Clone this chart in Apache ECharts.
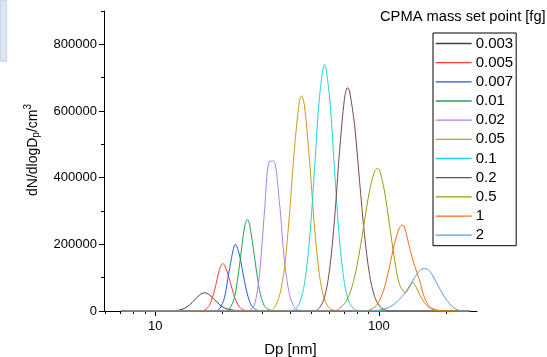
<!DOCTYPE html>
<html>
<head>
<meta charset="utf-8">
<script src="https://cdn.jsdelivr.net/npm/echarts@6/dist/echarts.min.js"></script>
<style>
html,body{margin:0;padding:0;background:#fff;}
#chart{width:547px;height:357px;}
</style>
</head>
<body>
<div id="chart"></div>
<script>
// ---- data (Dp in nm, dN/dlogDp in /cm3) ----
const seriesNames = ['0.003','0.005','0.007','0.01','0.02','0.05','0.1','0.2','0.5','1','2'];
const seriesColors = ['#404040','#ff3a3a','#1f5bd6','#22a352','#b07fe6','#cc9a15','#22d3d3','#7a4848','#9b9b12','#ff6a12','#5b9bdc'];

const dp_0003 = [7.07, 11.59, 12.84, 13.52, 14.23, 14.99, 15.78, 16.62, 17.50, 18.42, 19.40, 20.42, 21.50, 22.63, 23.82, 25.08, 26.41, 254.5];
const n_0003  = [0, 0, 3000, 8000, 18000, 33000, 48000, 55000, 48000, 34000, 19000, 9000, 4500, 2000, 1000, 400, 0, 0];

const dp_0005 = [7.07, 15.78, 16.62, 17.50, 18.42, 19.40, 20.0, 20.42, 21.50, 22.63, 23.82, 25.08, 26.41, 254.5];
const n_0005  = [0, 0, 2700, 17500, 62500, 125000, 142000, 138000, 95000, 42000, 12000, 2500, 0, 0];

const dp_0007 = [7.07, 18.42, 19.40, 20.42, 21.50, 22.86, 23.82, 25.08, 26.41, 27.80, 29.27, 30.82, 254.5];
const n_0007  = [0, 0, 6500, 41000, 127000, 200000, 168000, 89000, 29000, 6000, 1000, 0, 0];

const dp_001 = [7.07, 20.42, 21.50, 22.63, 23.82, 25.08, 25.87, 26.41, 27.80, 29.27, 30.82, 32.45, 34.16, 35.96, 254.5];
const n_001  = [0, 0, 6800, 41000, 137000, 252000, 275000, 261000, 162000, 62000, 14000, 3500, 500, 0, 0];

const dp_002 = [7.07, 25.08, 26.41, 27.80, 29.27, 30.82, 32.28, 33.82, 35.96, 37.86, 39.86, 41.98, 44.19, 46.53, 254.5];
const n_002  = [0, 0, 2000, 18000, 110000, 300000, 448000, 450000, 324000, 148000, 50000, 10000, 1500, 0, 0];

const dp_005 = [7.07, 32.45, 34.16, 35.96, 37.86, 39.86, 41.98, 44.19, 45.11, 46.53, 48.99, 51.58, 54.31, 57.17, 60.19, 63.38, 66.72, 254.5];
const n_005  = [0, 0, 11000, 46000, 129000, 290000, 490000, 632000, 645000, 615000, 452000, 252000, 106000, 34000, 8500, 2000, 0, 0];

const dp_01 = [7.07, 39.86, 41.98, 44.19, 46.53, 48.99, 51.58, 54.31, 57.17, 60.19, 63.38, 66.72, 70.25, 73.96, 77.87, 81.98, 254.5];
const n_01  = [0, 0, 5000, 23000, 82000, 213000, 425000, 643000, 740000, 643000, 425000, 213000, 82000, 23000, 5000, 0, 0];

const dp_02 = [7.07, 51.58, 54.31, 57.17, 60.19, 63.38, 66.72, 70.25, 72.44, 73.96, 77.87, 81.98, 86.31, 90.87, 95.67, 100.7, 106.0, 111.6, 254.5];
const n_02  = [0, 0, 10000, 40000, 122000, 274000, 478000, 638000, 670000, 660000, 560000, 392000, 229000, 110000, 44000, 15000, 4000, 0, 0];

const dp_05 = [7.07, 63.38, 66.72, 70.25, 73.96, 77.87, 81.98, 86.31, 90.87, 95.67, 98.67, 100.7, 106.0, 111.6, 117.5, 123.7, 131.5, 137.2, 141.9, 147.4, 152.1, 160.1, 168.6, 177.5, 186.9, 254.5];
const n_05  = [0, 0, 8000, 22000, 50000, 101000, 177000, 270000, 360000, 418000, 428000, 424000, 360000, 260000, 157000, 80000, 55000, 72000, 85000, 70000, 50000, 25000, 10000, 3000, 0, 0];

const dp_1 = [7.07, 86.31, 90.87, 95.67, 100.7, 106.0, 111.6, 117.5, 123.7, 127.6, 130.3, 137.2, 144.4, 152.1, 160.1, 168.6, 177.5, 186.9, 196.8, 254.5];
const n_1  = [0, 0, 3000, 11000, 31000, 70000, 132000, 201000, 250000, 257500, 252000, 192000, 137000, 93000, 40000, 13000, 5000, 1500, 0, 0];

const dp_2 = [7.07, 95.67, 100.7, 106.0, 111.6, 117.5, 123.7, 130.3, 137.2, 144.4, 152.1, 160.1, 168.6, 177.5, 186.9, 196.8, 207.2, 218.1, 229.6, 241.7, 254.5];
const n_2  = [0, 0, 3000, 6000, 12000, 21000, 35000, 52000, 75000, 100000, 120000, 128000, 120000, 96000, 68000, 42000, 22000, 8000, 2000, 0, 0];

const xMajorTicks = [10, 100];
const xMinorTicks = [6, 7, 8, 9, 20, 30, 40, 50, 60, 70, 80, 90, 200];
const yMajorTicks = [0, 200000, 400000, 600000, 800000];
const yMinorTicks = [100000, 300000, 500000, 700000, 900000];

const allDp = [dp_0003, dp_0005, dp_0007, dp_001, dp_002, dp_005, dp_01, dp_02, dp_05, dp_1, dp_2];
const allN  = [n_0003, n_0005, n_0007, n_001, n_002, n_005, n_01, n_02, n_05, n_1, n_2];

const FONT = '"Liberation Sans", Arial, sans-serif';
const chart = echarts.init(document.getElementById('chart'), null, {renderer: 'canvas'});

const series = seriesNames.map((name, i) => ({
  name: name,
  type: 'line',
  xAxisIndex: 0,
  yAxisIndex: 0,
  symbol: 'none',
  showSymbol: false,
  smooth: 0.3,
  animation: false,
  color: seriesColors[i],
  lineStyle: {width: 1, color: seriesColors[i]},
  data: allDp[i].map((d, k) => [d, allN[i][k]])
}));

const option = {
  animation: false,
  backgroundColor: '#fff',
  textStyle: {fontFamily: FONT},
  graphic: [{
    type: 'rect', left: 0, top: 0, z: 100,
    shape: {width: 6, height: 61},
    style: {fill: '#dce6f1', stroke: '#c9d7e8', lineWidth: 1}
  }],
  title: {
    text: 'CPMA mass set point [fg]',
    left: 380, top: 9, padding: 0,
    textStyle: {fontFamily: FONT, fontSize: 14.7, fontWeight: 'normal', color: '#000'}
  },
  legend: {
    orient: 'vertical',
    left: 433, top: 33,
    padding: [3, 3, 3, 2],
    itemWidth: 36, itemHeight: 15, itemGap: 4.17,
    borderColor: '#000', borderWidth: 1,
    itemStyle: {opacity: 0},
    lineStyle: {width: 1.3, opacity: 1},
    textStyle: {fontFamily: FONT, fontSize: 15, color: '#000', padding: [0, 0, 0, -1]},
    data: seriesNames
  },
  grid: {left: 104, right: 70, top: 11, bottom: 46, containLabel: false, outerBoundsMode: 'none'},
  xAxis: [{
    type: 'log', logBase: 10, min: 5.9, max: 275,
    name: 'Dp [nm]', nameLocation: 'middle', nameGap: 31,
    nameTextStyle: {fontFamily: FONT, fontSize: 15, color: '#000'},
    axisLine: {show: true, onZero: false, lineStyle: {color: '#000', width: 1}},
    axisTick: {show: true, inside: false, length: 5, customValues: xMajorTicks, lineStyle: {color: '#000'}},
    axisLabel: {show: true, margin: 9, fontFamily: FONT, fontSize: 13, color: '#000',
      customValues: xMajorTicks, formatter: v => String(Math.round(v))},
    splitLine: {show: false}, minorTick: {show: false}
  }, {
    type: 'log', logBase: 10, min: 5.9, max: 275, position: 'bottom',
    axisLine: {show: false},
    axisTick: {show: true, inside: false, length: 3, customValues: xMinorTicks, lineStyle: {color: '#000'}},
    axisLabel: {show: false},
    splitLine: {show: false}
  }],
  yAxis: [{
    type: 'value', min: 0, max: 900000, position: 'left',
    name: '{a|dN/dlogD}{s|p}{a|/cm}{t|3}',
    nameLocation: 'middle', nameRotate: 90, nameGap: 59,
    nameTextStyle: {
      fontFamily: FONT, color: '#000',
      padding: [0, 0, 0, 22],
      rich: {
        a: {fontFamily: FONT, fontSize: 14, color: '#000', lineHeight: 20, verticalAlign: 'middle'},
        s: {fontFamily: FONT, fontSize: 10, color: '#000', lineHeight: 20, verticalAlign: 'bottom', padding: [0, 0, 1, 0]},
        t: {fontFamily: FONT, fontSize: 10, color: '#000', lineHeight: 20, verticalAlign: 'top', padding: [1, 0, 0, 0]}
      }
    },
    axisLine: {show: true, onZero: false, lineStyle: {color: '#000', width: 1}},
    axisTick: {show: true, inside: false, length: 5, customValues: yMajorTicks, lineStyle: {color: '#000'}},
    axisLabel: {show: true, margin: 7, fontFamily: FONT, fontSize: 13, color: '#000',
      customValues: yMajorTicks, formatter: v => String(v)},
    splitLine: {show: false}
  }, {
    type: 'value', min: 0, max: 900000, position: 'left',
    axisLine: {show: false},
    axisTick: {show: true, inside: false, length: 3, customValues: yMinorTicks, lineStyle: {color: '#000'}},
    axisLabel: {show: false},
    splitLine: {show: false}
  }],
  series: series
};
chart.setOption(option);
</script>
</body>
</html>
